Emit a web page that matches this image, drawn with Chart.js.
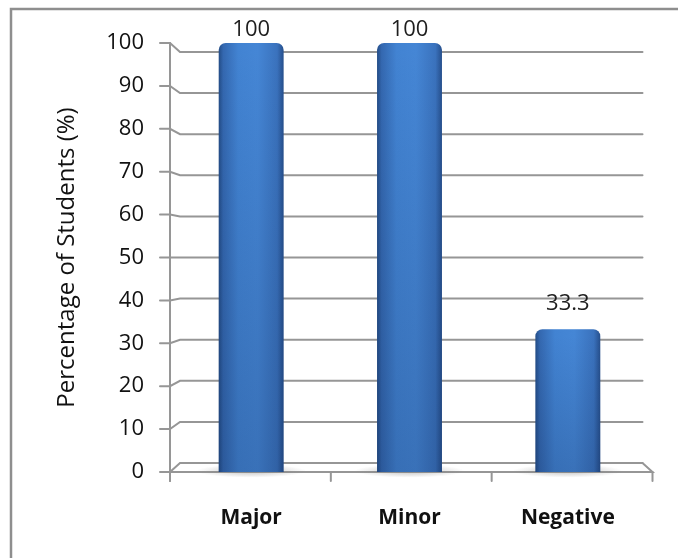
<!DOCTYPE html>
<html>
<head>
<meta charset="utf-8">
<script src="https://cdn.jsdelivr.net/npm/chart.js@4"></script>
<style>
  html, body { margin: 0; padding: 0; background: #fff; }
  #wrap { width: 678px; height: 558px; }
</style>
</head>
<body>
<div id="wrap"><canvas id="students-chart"></canvas></div>
<script>
const categories = ['Major', 'Minor', 'Negative']
const percentages = [100, 100, 33.3]
const yMin = 0
const yMax = 100
const yStep = 10

const FONT = '"Open Sans", sans-serif'
const DEPTH = 0.042 // how far the back wall sits from the front, as share of distance to middle

const backY = (chart, p) => {
  const a = chart.chartArea
  const cy = (a.top + a.bottom) / 2
  return p - (p - cy) * DEPTH
}

// the 3D-looking walls, floor, and the frame round the chart
const framePlugin = {
  id: 'frame3d',
  beforeDatasetsDraw(chart) {
    const { ctx, chartArea: a, scales: { y } } = chart
    const fx0 = a.left - 2, fx1 = a.right + 5.5
    const bx0 = a.left + 8, bx1 = a.right - 4.5
    ctx.save()
    ctx.lineCap = 'round'

    // outer border (top and left only are visible)
    ctx.strokeStyle = '#8e8e8e'
    ctx.lineWidth = 2.5
    ctx.beginPath()
    ctx.moveTo(11, chart.height)
    ctx.lineTo(11, 9)
    ctx.lineTo(chart.width, 9)
    ctx.stroke()

    ctx.strokeStyle = '#969696'
    ctx.lineWidth = 2
    y.ticks.forEach(t => {
      const p = y.getPixelForValue(t.value)
      const b = backY(chart, p)
      ctx.beginPath()
      ctx.moveTo(fx0 - 10, p)
      ctx.lineTo(fx0, p)
      ctx.lineTo(bx0, b)
      ctx.lineTo(bx1, b)
      ctx.stroke()
    })

    // floor
    const p0 = y.getPixelForValue(yMin)
    const b0 = backY(chart, p0)
    ctx.beginPath()
    ctx.moveTo(fx0, p0)
    ctx.lineTo(fx1, p0)
    ctx.lineTo(bx1, b0)
    ctx.stroke()
    const n = categories.length
    for (let i = 0; i <= n; i++) {
      const xi = fx0 + i * (fx1 - fx0) / n
      ctx.beginPath()
      ctx.moveTo(xi, p0)
      ctx.lineTo(xi, p0 + 9)
      ctx.stroke()
    }
    // front value axis
    ctx.beginPath()
    ctx.moveTo(fx0, y.getPixelForValue(yMax))
    ctx.lineTo(fx0, p0 + 9)
    ctx.stroke()

    // soft shadows under the columns
    const meta = chart.getDatasetMeta(0)
    meta.data.forEach(el => {
      const cx = el.x, cyy = el.base - 1
      const rx = el.width * 0.85
      ctx.save()
      ctx.translate(cx, cyy)
      ctx.scale(1, 0.12)
      const g = ctx.createRadialGradient(0, 0, 0, 0, 0, rx)
      g.addColorStop(0, 'rgba(120,120,120,0.45)')
      g.addColorStop(1, 'rgba(120,120,120,0)')
      ctx.fillStyle = g
      ctx.beginPath()
      ctx.arc(0, 0, rx, 0, Math.PI * 2)
      ctx.fill()
      ctx.restore()
    })
    ctx.restore()
  },
  afterDatasetsDraw(chart) {
    const { ctx } = chart
    const meta = chart.getDatasetMeta(0)
    ctx.save()
    // darken columns toward the floor
    meta.data.forEach(el => {
      const top = el.y + 6
      const g = ctx.createLinearGradient(0, top, 0, el.base)
      g.addColorStop(0, 'rgba(10,30,70,0)')
      g.addColorStop(1, 'rgba(10,30,70,0.2)')
      ctx.fillStyle = g
      ctx.fillRect(el.x - el.width / 2, top, el.width, el.base - top)
    })
    // value labels
    ctx.fillStyle = '#1e1e1e'
    ctx.font = '22px ' + FONT
    ctx.textAlign = 'center'
    ctx.textBaseline = 'middle'
    meta.data.forEach((el, i) => {
      ctx.fillText(String(percentages[i]), el.x, backY(chart, el.y) - 22)
    })
    ctx.restore()
  }
}

const columnFill = c => {
  const chart = c.chart
  const x = chart.scales && chart.scales.x
  if (!chart.chartArea || !x) return '#3f7dcc'
  const cx = x.getPixelForValue(c.dataIndex)
  const w = chart.chartArea.width / categories.length * 0.41
  const g = chart.ctx.createLinearGradient(cx - w / 2, 0, cx + w / 2, 0)
  g.addColorStop(0, '#234c86')
  g.addColorStop(0.07, '#3468b0')
  g.addColorStop(0.3, '#4283d2')
  g.addColorStop(0.6, '#4586d5')
  g.addColorStop(0.9, '#3a72bd')
  g.addColorStop(1, '#264f8c')
  return g
}

new Chart(document.querySelector('#students-chart'), {
  type: 'bar',
  data: {
    labels: categories,
    datasets: [{
      data: percentages,
      backgroundColor: columnFill,
      borderWidth: 0,
      borderRadius: { topLeft: 7, topRight: 7 },
      borderSkipped: 'bottom',
      categoryPercentage: 1,
      barPercentage: 0.41
    }]
  },
  options: {
    responsive: true,
    maintainAspectRatio: false,
    animation: false,
    layout: { padding: { left: 38, right: 31, top: 43, bottom: 26 } },
    plugins: {
      legend: { display: false },
      tooltip: { enabled: false }
    },
    scales: {
      x: {
        grid: { display: false, drawTicks: false },
        border: { display: false },
        ticks: {
          padding: 33,
          color: '#111',
          font: { family: FONT, size: 21, weight: 'bold' }
        },
        afterFit(s) { s.height = 60 }
      },
      y: {
        min: yMin,
        max: yMax,
        grid: { display: false, drawTicks: false },
        border: { display: false },
        ticks: {
          stepSize: yStep,
          padding: 28,
          color: '#111',
          font: { family: FONT, size: 22 }
        },
        title: {
          display: true,
          text: 'Percentage of Students (%)',
          color: '#111',
          padding: { top: 15, bottom: 0 },
          font: { family: FONT, size: 24 }
        },
        afterFit(s) { s.width = 134 }
      }
    }
  },
  plugins: [framePlugin]
})
</script>
</body>
</html>
